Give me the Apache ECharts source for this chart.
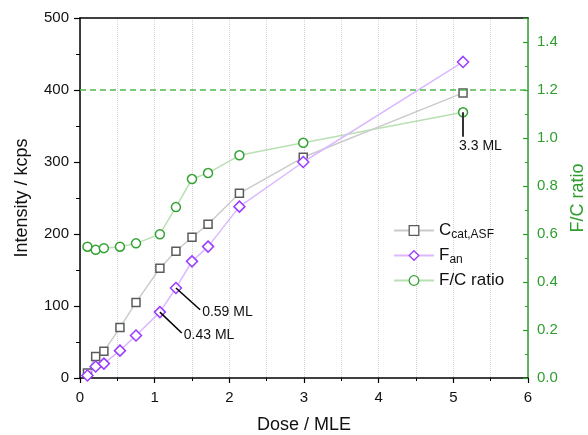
<!DOCTYPE html>
<html><head><meta charset="utf-8">
<script src="https://cdn.jsdelivr.net/npm/echarts@6/dist/echarts.min.js"></script>
<style>html,body{margin:0;padding:0;background:#fff}#c{width:588px;height:435px}</style>
</head><body><div id="c"></div>
<script>
var dose  = [0.10, 0.21, 0.32, 0.535, 0.75, 1.07, 1.285, 1.50, 1.715, 2.135, 2.99, 5.13];
var cCat  = [7, 30, 37, 70, 105, 152.5, 176, 195.5, 213.5, 256.5, 306.5, 396];
var fAn   = [3.5, 16, 20, 38, 59, 91.5, 125, 162, 182.5, 238, 300, 439];
var ratio = [0.547, 0.534, 0.541, 0.547, 0.561, 0.599, 0.712, 0.829, 0.854, 0.928, 0.98, 1.107];
var xTicks = [0, 1, 2, 3, 4, 5, 6];
var yTicks = [0, 100, 200, 300, 400, 500];
var rTicks = [0.0, 0.2, 0.4, 0.6, 0.8, 1.0, 1.2, 1.4];
var refRatio = 1.2;
var annoLabels = ['0.43 ML', '0.59 ML', '3.3 ML'];

function pairs(xs, ys){ return xs.map(function(x,i){ return [x, ys[i]]; }); }

var FONT = 'Liberation Sans, Arial, sans-serif';
var chart = echarts.init(document.getElementById('c'), null, {renderer:'canvas'});
var green = '#2f9e2f';
var option = {
  animation: false,
  textStyle: {fontFamily: FONT},
  grid: {left: 80, right: 60, top: 18, bottom: 57, containLabel: false, outerBoundsMode: 'none'},
  legend: {
    orient: 'vertical', left: 388, top: 217, itemGap: 6,
    itemWidth: 40, itemHeight: 12,
    itemStyle: {borderWidth: 1.3},
    textStyle: {fontFamily: FONT, fontSize: 17, color: '#111',
      rich: {m: {fontSize: 17, color:'#111', fontFamily: FONT},
             s: {fontSize: 12, color:'#111', fontFamily: FONT, verticalAlign:'bottom', padding:[9,0,0,0]}}},
    formatter: function(n){
      if (n === 'Ccat') return '{m|C}{s|cat,ASF}';
      if (n === 'Fan') return '{m|F}{s|an}';
      return '{m|' + n + '}';
    },
    data: ['Ccat', 'Fan', 'F/C ratio']
  },
  xAxis: [{
    type: 'value', min: 0, max: 6, interval: 1,
    name: 'Dose / MLE', nameLocation: 'middle', nameGap: 38,
    nameTextStyle: {fontSize: 18, color: '#111', fontFamily: FONT},
    axisLine: {onZero: false, lineStyle: {color: '#000', width: 1.5}},
    axisTick: {show: true, length: 5, lineStyle: {color:'#000', width: 1.2}},
    minorTick: {show: true, splitNumber: 2, length: 3, lineStyle: {color:'#000', width: 1}},
    axisLabel: {fontSize: 15, color: '#111', margin: 12, fontFamily: FONT,
      formatter: function(v){ return xTicks.indexOf(v) >= 0 ? String(v) : ''; }},
    splitLine: {show: true, lineStyle: {color: '#d4d4d4', type: 'dotted', width: 1}},
    minorSplitLine: {show: true, lineStyle: {color: '#d4d4d4', type: 'dotted', width: 1}}
  }, {
    type: 'value', position: 'top', min: 0, max: 6,
    axisLine: {show: true, onZero: false, lineStyle: {color: '#000', width: 1.5}},
    axisTick: {show: false}, axisLabel: {show: false}, splitLine: {show: false}
  }],
  yAxis: [{
    type: 'value', min: 0, max: 500, interval: 100,
    name: 'Intensity / kcps', nameLocation: 'middle', nameGap: 49,
    nameTextStyle: {fontSize: 18, color: '#111', fontFamily: FONT},
    axisLine: {show: true, onZero: false, lineStyle: {color: '#000', width: 1.5}},
    axisTick: {show: true, length: 6, lineStyle: {color:'#000', width: 1.2}},
    minorTick: {show: true, splitNumber: 2, length: 4, lineStyle: {color:'#000', width: 1}},
    axisLabel: {fontSize: 15, color: '#111', margin: 11, fontFamily: FONT,
      formatter: function(v){ return yTicks.indexOf(v) >= 0 ? String(v) : ''; }},
    splitLine: {show: false}
  }, {
    type: 'value', min: 0, max: 1.5, interval: 0.2, position: 'right',
    name: 'F/C ratio', nameLocation: 'middle', nameGap: 41,
    nameTextStyle: {fontSize: 18, color: green, fontFamily: FONT},
    axisLine: {show: true, onZero: false, lineStyle: {color: green, width: 1.5}},
    axisTick: {show: true, inside: true, length: 5, lineStyle: {color: green, width: 1.2}},
    minorTick: {show: true, splitNumber: 2, length: 3, lineStyle: {color: green, width: 1}},
    axisLabel: {fontSize: 15, color: green, margin: 9, fontFamily: FONT, showMaxLabel: false,
      formatter: function(v){
        var r = Math.round(v*10)/10;
        return rTicks.some(function(t){return Math.abs(t-r)<1e-6 && Math.abs(v-r)<1e-6;}) ? r.toFixed(1) : '';
      }},
    splitLine: {show: false}
  }],
  series: [{
    name: 'Ccat', type: 'line', data: pairs(dose, cCat),
    symbol: 'rect', symbolSize: 8,
    itemStyle: {color: '#fff', borderColor: '#5b5b5b', borderWidth: 1.5},
    lineStyle: {color: '#cbcbcb', width: 1.5}, z: 3
  }, {
    name: 'Fan', type: 'line', data: pairs(dose, fAn),
    symbol: 'diamond', symbolSize: 11,
    itemStyle: {color: '#fff', borderColor: '#9a3cff', borderWidth: 1.5},
    lineStyle: {color: '#dbb9ff', width: 1.5}, z: 4,
    markLine: {
      silent: true, symbol: ['none','none'],
      lineStyle: {color: '#000', width: 1.5, type: 'solid'},
      label: {show: true, position: 'end', fontSize: 14, color: '#111', fontFamily: FONT, distance: 0,
              align: 'left', verticalAlign: 'middle', offset: [2, 2],
              formatter: function(p){ return p.name; }},
      data: [
        [{name: annoLabels[0], coord: [dose[5], fAn[5]]}, {coord: [1.363, 62.4]}],
        [{name: annoLabels[1], coord: [dose[6], fAn[6]]}, {coord: [1.609, 94.7]}]
      ]
    }
  }, {
    name: 'F/C ratio', type: 'line', yAxisIndex: 1, data: pairs(dose, ratio),
    symbol: 'circle', symbolSize: 9,
    itemStyle: {color: '#fff', borderColor: '#34a334', borderWidth: 1.5},
    lineStyle: {color: '#b9e0b3', width: 1.5}, z: 2,
    markLine: {
      silent: true, symbol: ['none','none'],
      data: [
        {yAxis: refRatio, lineStyle: {color: '#4cbb4c', width: 1.5, type: [6, 4]}, label: {show: false}},
        [{name: annoLabels[2], coord: [dose[11], ratio[11]],
          lineStyle: {color: '#333', width: 2, type: 'solid'},
          label: {show: true, position: 'end', fontSize: 14, color: '#111', fontFamily: FONT, distance: 0,
                  align: 'left', verticalAlign: 'top', offset: [-4, 2],
                  formatter: function(p){ return p.name; }}},
         {coord: [dose[11], 1.005]}]
      ]
    }
  }]
};
chart.setOption(option);
</script></body></html>
